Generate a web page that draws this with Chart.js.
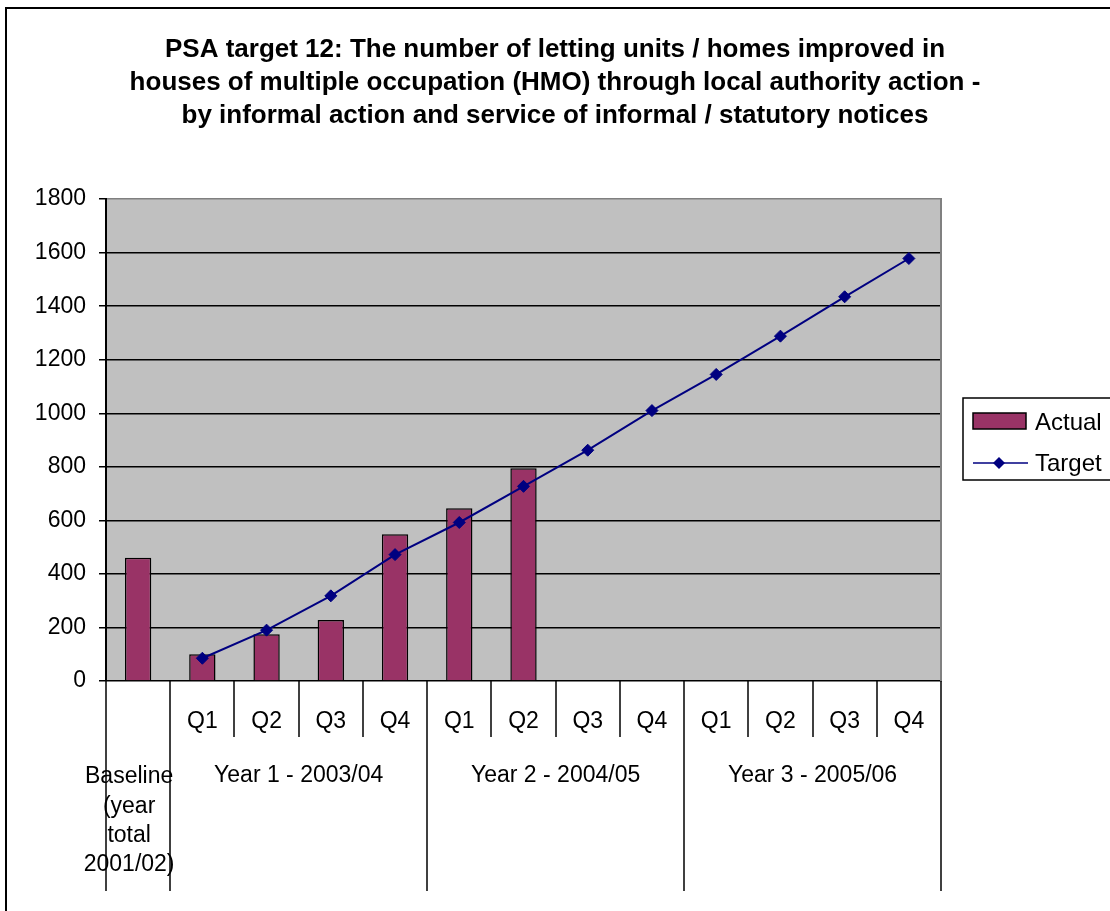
<!DOCTYPE html>
<html><head><meta charset="utf-8">
<script src="https://cdn.jsdelivr.net/npm/chart.js@4.4.0/dist/chart.umd.min.js"></script>
<style>html,body{margin:0;padding:0;background:#fff;}#wrap{width:1110px;height:911px;}</style>
</head><body><div id="wrap"><canvas id="c" width="1110" height="911"></canvas></div>
<script>
const titleLines = [
  'PSA target 12: The number of letting units / homes improved in',
  'houses of multiple occupation (HMO) through local authority action -',
  'by informal action and service of informal / statutory notices'
];
const quarterLabels = ['', 'Q1', 'Q2', 'Q3', 'Q4', 'Q1', 'Q2', 'Q3', 'Q4', 'Q1', 'Q2', 'Q3', 'Q4'];
const baselineLabel = ['Baseline', '(year', 'total', '2001/02)'];
const yearGroups = ['Year 1 - 2003/04', 'Year 2 - 2004/05', 'Year 3 - 2005/06'];
const actualValues = [460, 100, 175, 228, 548, 645, 795, null, null, null, null, null, null];
const targetValues = [null, 85, 190, 318, 472, 592, 727, 862, 1010, 1145, 1288, 1435, 1578];
const yTicks = [0, 200, 400, 600, 800, 1000, 1200, 1400, 1600, 1800];
const seriesNames = ['Actual', 'Target'];

const FONT = 'Arial, "Liberation Sans", sans-serif';
const categories = quarterLabels.map((q, i) => i === 0 ? baselineLabel.join(' ') : q);

const bgPlugin = {
  id: 'bg',
  beforeDraw(chart) {
    const { ctx, chartArea: a } = chart;
    ctx.save();
    ctx.fillStyle = '#fff';
    ctx.fillRect(0, 0, chart.width, chart.height);
    ctx.fillStyle = '#C0C0C0';
    ctx.fillRect(a.left, a.top, a.right - a.left, a.bottom - a.top);
    ctx.strokeStyle = '#000';
    ctx.lineWidth = 2;
    ctx.strokeRect(6, 8, 1300, 1100);
    ctx.restore();
  }
};

const catAxisPlugin = {
  id: 'catAxis',
  afterDraw(chart) {
    const { ctx } = chart;
    const x = chart.scales.x, y = chart.scales.y;
    const y0 = Math.round(y.getPixelForValue(0));
    const w = x.getPixelForValue(1) - x.getPixelForValue(0);
    const left = x.getPixelForValue(0) - w / 2;
    const longB = [0, 1];
    yearGroups.forEach((g, k) => longB.push(1 + 4 * (k + 1)));
    ctx.save();
    ctx.strokeStyle = '#000';
    ctx.lineWidth = 1.5;
    for (let b = 0; b <= categories.length; b++) {
      const px = Math.round(left + b * w);
      ctx.beginPath();
      ctx.moveTo(px, y0);
      ctx.lineTo(px, longB.includes(b) ? 891 : 737);
      ctx.stroke();
    }
    ctx.fillStyle = '#000';
    ctx.font = '23px ' + FONT;
    ctx.textAlign = 'center';
    ctx.textBaseline = 'middle';
    quarterLabels.forEach((q, i) => {
      if (q) ctx.fillText(q, x.getPixelForValue(i), 722);
    });
    yearGroups.forEach((g, k) => {
      const c = (x.getPixelForValue(1 + 4 * k) + x.getPixelForValue(4 + 4 * k)) / 2;
      ctx.fillText(g, c, 776);
    });
    baselineLabel.forEach((t, j) => {
      ctx.fillText(t, x.getPixelForValue(0) - 9, 777 + j * 29.3);
    });
    ctx.restore();
  }
};

const legendPlugin = {
  id: 'customLegend',
  afterDraw(chart) {
    const { ctx } = chart;
    const ds = chart.data.datasets;
    const bar = ds.find(d => d.type === 'bar');
    const line = ds.find(d => d.type === 'line');
    ctx.save();
    ctx.fillStyle = '#fff';
    ctx.fillRect(963, 398, 160, 82);
    ctx.strokeStyle = '#000';
    ctx.lineWidth = 1.5;
    ctx.strokeRect(963, 398, 160, 82);
    ctx.fillStyle = bar.backgroundColor;
    ctx.fillRect(973, 413, 53, 16);
    ctx.strokeStyle = '#000';
    ctx.lineWidth = 1.5;
    ctx.strokeRect(973, 413, 53, 16);
    ctx.strokeStyle = line.borderColor;
    ctx.lineWidth = 1.5;
    ctx.beginPath(); ctx.moveTo(973, 463); ctx.lineTo(1028, 463); ctx.stroke();
    ctx.fillStyle = line.pointBackgroundColor;
    ctx.beginPath();
    ctx.moveTo(999, 457); ctx.lineTo(1005, 463); ctx.lineTo(999, 469); ctx.lineTo(993, 463); ctx.closePath();
    ctx.fill();
    ctx.fillStyle = '#000';
    ctx.font = '24px ' + FONT;
    ctx.textAlign = 'left';
    ctx.textBaseline = 'middle';
    ctx.fillText(bar.label, 1035, 423);
    ctx.fillText(line.label, 1035, 464);
    ctx.restore();
  }
};

new Chart(document.getElementById('c'), {
  data: {
    labels: categories,
    datasets: [
      {
        type: 'line', label: seriesNames[1], data: targetValues, order: 0,
        borderColor: '#000080', borderWidth: 2, backgroundColor: '#000080',
        pointStyle: 'rectRot', pointRadius: 6, pointBackgroundColor: '#000080',
        pointBorderColor: '#000080', pointBorderWidth: 1, tension: 0, fill: false
      },
      {
        type: 'bar', label: seriesNames[0], data: actualValues, order: 1,
        backgroundColor: '#993366', borderColor: '#000', borderWidth: 1.5,
        barPercentage: 0.41, categoryPercentage: 1
      }
    ]
  },
  options: {
    responsive: false,
    animation: false,
    devicePixelRatio: 1,
    layout: { padding: { top: 0, left: 0, right: 0, bottom: 230 } },
    plugins: {
      legend: { display: false },
      tooltip: { enabled: false },
      title: {
        display: true, text: titleLines, color: '#000',
        font: { family: FONT, size: 26, weight: 'bold', lineHeight: 1.27 },
        padding: { top: 33, bottom: 67 }
      }
    },
    scales: {
      x: { display: false, offset: true },
      y: {
        position: 'left', min: 0, max: 1800,
        afterBuildTicks: s => { s.ticks = yTicks.map(v => ({ value: v })); },
        ticks: { color: '#000', font: { family: FONT, size: 23 }, padding: 13, callback: v => String(v) },
        grid: {
          color: c => (c.tick && c.tick.value === 1800) ? '#808080' : '#000',
          lineWidth: 1.5, tickLength: 7, tickColor: '#000', drawTicks: true
        },
        border: { display: true, color: '#000', width: 2 },
        afterFit: s => { s.width = 106; }
      },
      yR: {
        position: 'right', min: 0, max: 1800, display: true,
        ticks: { display: false },
        grid: { drawOnChartArea: false, drawTicks: false },
        border: { display: true, color: '#808080', width: 2 },
        afterFit: s => { s.width = 169; }
      }
    }
  },
  plugins: [bgPlugin, catAxisPlugin, legendPlugin]
});
</script>
</body></html>
